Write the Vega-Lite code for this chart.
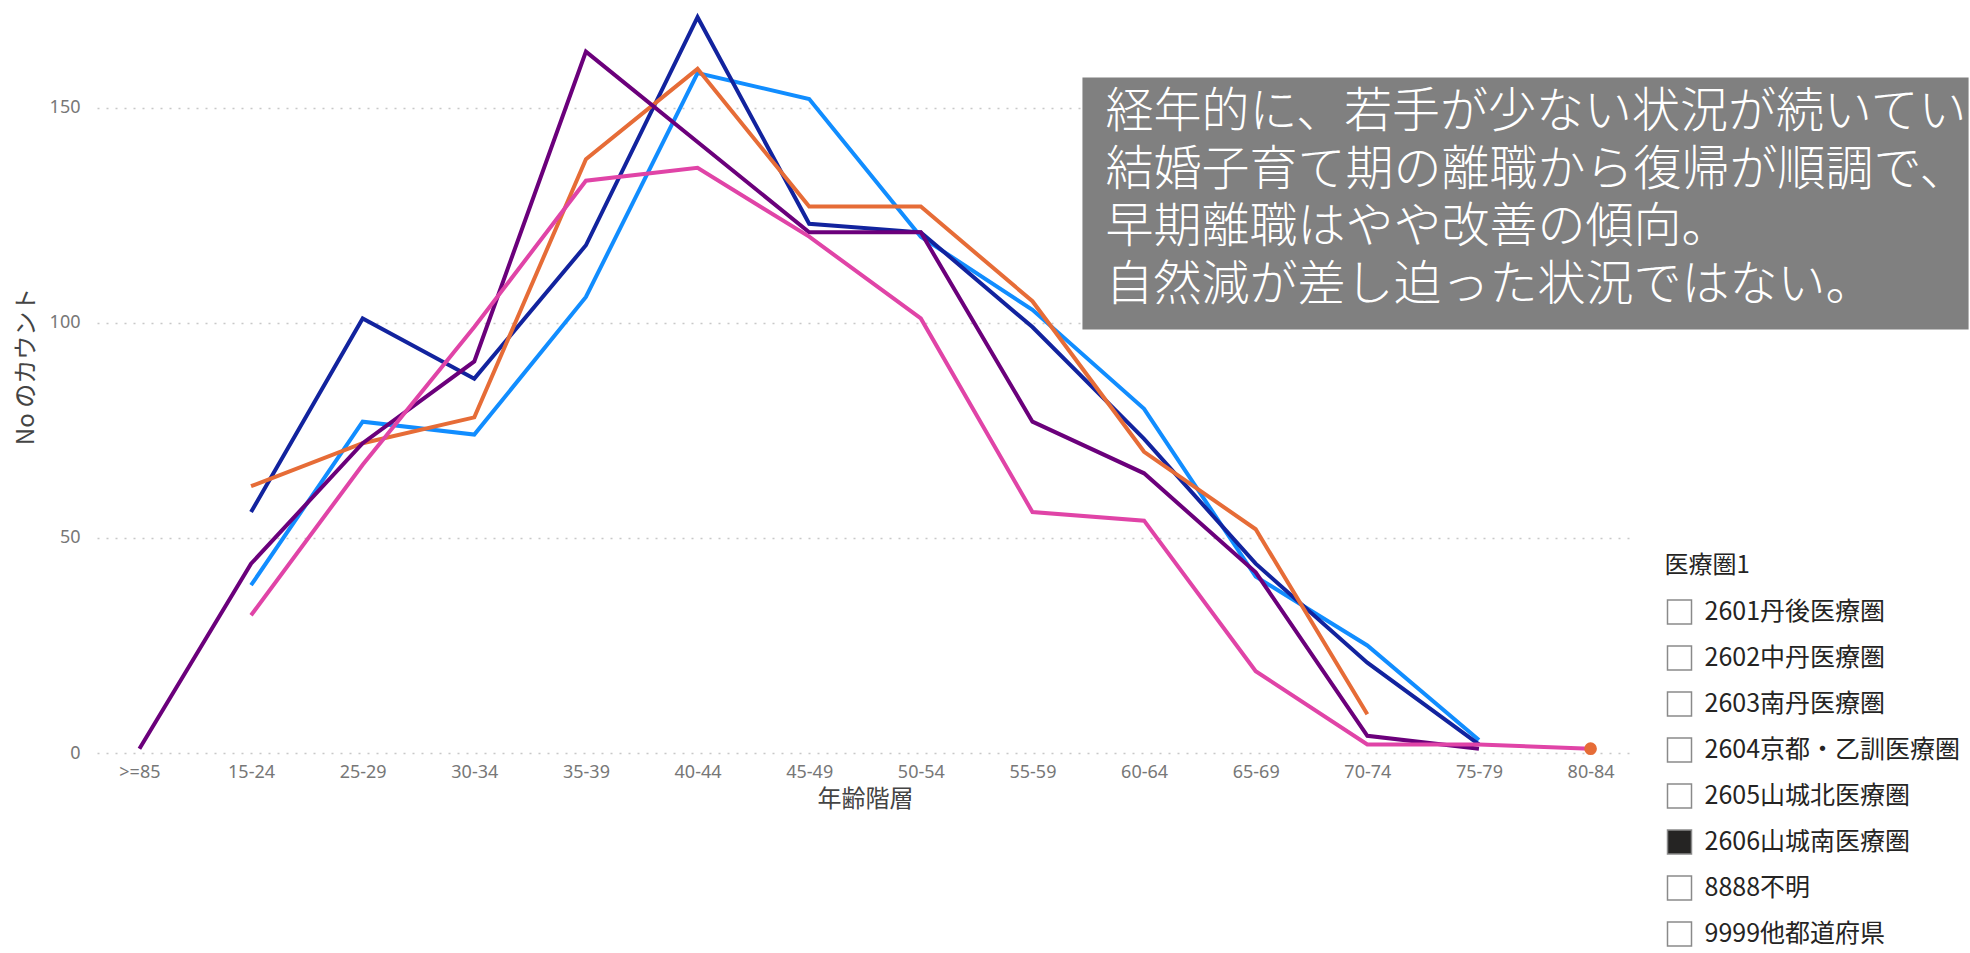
{
  "$schema": "https://vega.github.io/schema/vega-lite/v6.json",
  "background": "white",
  "padding": {"left": 14, "top": 0, "right": 0, "bottom": 0},
  "config": {"view": {"stroke": null}, "font": "Noto Sans CJK JP"},
  "datasets": {
    "counts": [
      {"年齢階層": "15-24", "系列": "系列1", "No": 39},
      {"年齢階層": "25-29", "系列": "系列1", "No": 77},
      {"年齢階層": "30-34", "系列": "系列1", "No": 74},
      {"年齢階層": "35-39", "系列": "系列1", "No": 106},
      {"年齢階層": "40-44", "系列": "系列1", "No": 158},
      {"年齢階層": "45-49", "系列": "系列1", "No": 152},
      {"年齢階層": "50-54", "系列": "系列1", "No": 120},
      {"年齢階層": "55-59", "系列": "系列1", "No": 103},
      {"年齢階層": "60-64", "系列": "系列1", "No": 80},
      {"年齢階層": "65-69", "系列": "系列1", "No": 41},
      {"年齢階層": "70-74", "系列": "系列1", "No": 25},
      {"年齢階層": "75-79", "系列": "系列1", "No": 3},
      {"年齢階層": "15-24", "系列": "系列2", "No": 56},
      {"年齢階層": "25-29", "系列": "系列2", "No": 101},
      {"年齢階層": "30-34", "系列": "系列2", "No": 87},
      {"年齢階層": "35-39", "系列": "系列2", "No": 118},
      {"年齢階層": "40-44", "系列": "系列2", "No": 171},
      {"年齢階層": "45-49", "系列": "系列2", "No": 123},
      {"年齢階層": "50-54", "系列": "系列2", "No": 121},
      {"年齢階層": "55-59", "系列": "系列2", "No": 99},
      {"年齢階層": "60-64", "系列": "系列2", "No": 73},
      {"年齢階層": "65-69", "系列": "系列2", "No": 44},
      {"年齢階層": "70-74", "系列": "系列2", "No": 21},
      {"年齢階層": "75-79", "系列": "系列2", "No": 2},
      {"年齢階層": "15-24", "系列": "系列3", "No": 62},
      {"年齢階層": "25-29", "系列": "系列3", "No": 72},
      {"年齢階層": "30-34", "系列": "系列3", "No": 78},
      {"年齢階層": "35-39", "系列": "系列3", "No": 138},
      {"年齢階層": "40-44", "系列": "系列3", "No": 159},
      {"年齢階層": "45-49", "系列": "系列3", "No": 127},
      {"年齢階層": "50-54", "系列": "系列3", "No": 127},
      {"年齢階層": "55-59", "系列": "系列3", "No": 105},
      {"年齢階層": "60-64", "系列": "系列3", "No": 70},
      {"年齢階層": "65-69", "系列": "系列3", "No": 52},
      {"年齢階層": "70-74", "系列": "系列3", "No": 9},
      {"年齢階層": "75-79", "系列": "系列3", "No": null},
      {"年齢階層": "80-84", "系列": "系列3", "No": 1},
      {"年齢階層": ">=85", "系列": "系列4", "No": 1},
      {"年齢階層": "15-24", "系列": "系列4", "No": 44},
      {"年齢階層": "25-29", "系列": "系列4", "No": 72},
      {"年齢階層": "30-34", "系列": "系列4", "No": 91},
      {"年齢階層": "35-39", "系列": "系列4", "No": 163},
      {"年齢階層": "40-44", "系列": "系列4", "No": 142},
      {"年齢階層": "45-49", "系列": "系列4", "No": 121},
      {"年齢階層": "50-54", "系列": "系列4", "No": 121},
      {"年齢階層": "55-59", "系列": "系列4", "No": 77},
      {"年齢階層": "60-64", "系列": "系列4", "No": 65},
      {"年齢階層": "65-69", "系列": "系列4", "No": 42},
      {"年齢階層": "70-74", "系列": "系列4", "No": 4},
      {"年齢階層": "75-79", "系列": "系列4", "No": 1},
      {"年齢階層": "15-24", "系列": "系列5", "No": 32},
      {"年齢階層": "25-29", "系列": "系列5", "No": 67},
      {"年齢階層": "30-34", "系列": "系列5", "No": 99},
      {"年齢階層": "35-39", "系列": "系列5", "No": 133},
      {"年齢階層": "40-44", "系列": "系列5", "No": 136},
      {"年齢階層": "45-49", "系列": "系列5", "No": 120},
      {"年齢階層": "50-54", "系列": "系列5", "No": 101},
      {"年齢階層": "55-59", "系列": "系列5", "No": 56},
      {"年齢階層": "60-64", "系列": "系列5", "No": 54},
      {"年齢階層": "65-69", "系列": "系列5", "No": 19},
      {"年齢階層": "70-74", "系列": "系列5", "No": 2},
      {"年齢階層": "75-79", "系列": "系列5", "No": 2},
      {"年齢階層": "80-84", "系列": "系列5", "No": 1}
    ],
    "areas": [
      {"医療圏1": "2601丹後医療圏", "選択": false},
      {"医療圏1": "2602中丹医療圏", "選択": false},
      {"医療圏1": "2603南丹医療圏", "選択": false},
      {"医療圏1": "2604京都・乙訓医療圏", "選択": false},
      {"医療圏1": "2605山城北医療圏", "選択": false},
      {"医療圏1": "2606山城南医療圏", "選択": true},
      {"医療圏1": "8888不明", "選択": false},
      {"医療圏1": "9999他都道府県", "選択": false}
    ],
    "note": [
      {"コメント": "経年的に、若手が少ない状況が続いている。\n結婚子育て期の離職から復帰が順調で、\n早期離職はやや改善の傾向。\n自然減が差し迫った状況ではない。"}
    ]
  },
  "bounds": "flush",
  "spacing": 34,
  "hconcat": [
    {
      "width": 1536,
      "height": 753,
      "layer": [
        {
          "data": {"name": "counts"},
          "mark": {"type": "line", "strokeWidth": 4, "invalid": "break-paths-show-domains"},
          "encoding": {
            "x": {
              "field": "年齢階層", "type": "ordinal",
              "scale": {"type": "point", "padding": 0.38, "domain": [">=85", "15-24", "25-29", "30-34", "35-39", "40-44", "45-49", "50-54", "55-59", "60-64", "65-69", "70-74", "75-79", "80-84"]},
              "axis": {"title": "年齢階層", "labelAngle": 0, "domain": false, "ticks": false, "grid": false, "labelPadding": 10, "labelFontSize": 18, "labelFont": "Noto Sans", "labelColor": "#777777", "titleFontSize": 24, "titleFontWeight": "normal", "titleColor": "#444444", "titlePadding": 6}
            },
            "y": {
              "field": "No", "type": "quantitative",
              "scale": {"domain": [0, 175], "nice": false},
              "axis": {"title": "No のカウント", "titleY": 366, "values": [0, 50, 100, 150], "domain": false, "ticks": false, "grid": true, "gridDash": [2, 7], "gridColor": "#C8C8C8", "gridWidth": 1.5, "labelPadding": 17, "labelFontSize": 18, "labelFont": "Noto Sans", "labelColor": "#777777", "titleFontSize": 24, "titleFontWeight": "normal", "titleColor": "#444444", "titlePadding": 11}
            },
            "color": {
              "field": "系列", "type": "nominal",
              "scale": {"domain": ["系列1", "系列2", "系列3", "系列4", "系列5"], "range": ["#118DFF", "#12239E", "#E66C37", "#6B007B", "#E044A7"]},
              "legend": null
            },
            "order": {"field": "系列"}
          }
        },
        {
          "data": {"name": "counts"},
          "transform": [{"filter": "datum['系列'] === '系列3' && datum['年齢階層'] === '80-84'"}],
          "mark": {"type": "point", "filled": true, "size": 160, "opacity": 1, "color": "#E66C37"},
          "encoding": {
            "x": {"field": "年齢階層", "type": "ordinal", "scale": {"type": "point", "padding": 0.38, "domain": [">=85", "15-24", "25-29", "30-34", "35-39", "40-44", "45-49", "50-54", "55-59", "60-64", "65-69", "70-74", "75-79", "80-84"]}},
            "y": {"field": "No", "type": "quantitative"}
          }
        },
        {
          "data": {"name": "note"},
          "mark": {"type": "rect", "color": "#808080", "xOffset": 50, "x2Offset": 378},
          "encoding": {
            "x": {"datum": "55-59", "type": "ordinal", "scale": {"type": "point", "padding": 0.38, "domain": [">=85", "15-24", "25-29", "30-34", "35-39", "40-44", "45-49", "50-54", "55-59", "60-64", "65-69", "70-74", "75-79", "80-84"]}},
            "x2": {"datum": "80-84"},
            "y": {"datum": 157, "type": "quantitative"},
            "y2": {"datum": 98.4}
          }
        },
        {
          "data": {"name": "note"},
          "mark": {"type": "text", "align": "left", "baseline": "middle", "dx": 73, "dy": 36, "fontSize": 48, "fontWeight": 300, "color": "#FFFFFF", "lineHeight": 57.5, "lineBreak": "\n", "limit": 866, "ellipsis": "\u200b"},
          "encoding": {
            "x": {"datum": "55-59", "type": "ordinal", "scale": {"type": "point", "padding": 0.38, "domain": [">=85", "15-24", "25-29", "30-34", "35-39", "40-44", "45-49", "50-54", "55-59", "60-64", "65-69", "70-74", "75-79", "80-84"]}},
            "y": {"datum": 157, "type": "quantitative"},
            "text": {"field": "コメント", "type": "nominal"}
          }
        }
      ]
    },
    {
      "width": 25,
      "height": 953,
      "data": {"name": "areas"},
      "title": {"text": "医療圏1", "anchor": "start", "orient": "top", "offset": -578, "fontSize": 24, "fontWeight": "normal", "color": "#252423", "font": "Noto Sans CJK JP"},
      "layer": [
        {
          "mark": {"type": "point", "shape": "square", "size": 576, "stroke": "#8A8A8A", "strokeWidth": 1.5, "opacity": 1},
          "encoding": {
            "y": {"field": "医療圏1", "type": "nominal", "sort": null, "scale": {"range": [589, 957], "padding": 0.5}, "axis": null},
            "fill": {"condition": {"test": "datum['選択']", "value": "#252423"}, "value": "#FFFFFF"}
          }
        },
        {
          "mark": {"type": "text", "align": "left", "baseline": "middle", "dx": 25, "fontSize": 25, "color": "#252423"},
          "encoding": {
            "y": {"field": "医療圏1", "type": "nominal", "sort": null, "scale": {"range": [589, 957], "padding": 0.5}, "axis": null},
            "text": {"field": "医療圏1", "type": "nominal"}
          }
        }
      ]
    }
  ]
}
